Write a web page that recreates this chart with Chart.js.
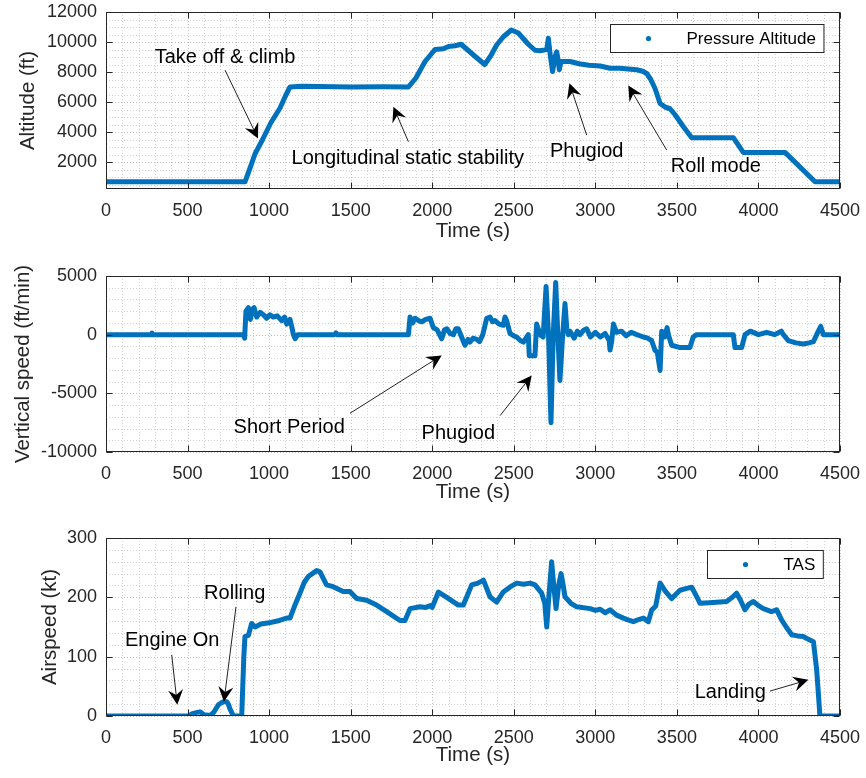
<!DOCTYPE html>
<html>
<head>
<meta charset="utf-8">
<title>Flight test data</title>
<script src="https://cdn.jsdelivr.net/npm/chart.js@4.4.0/dist/chart.umd.min.js"></script>
<style>
  body { margin: 0; background: #fff; }
  #wrap { position: relative; width: 866px; height: 778px; }
  canvas { position: absolute; left: 0; }
</style>
</head>
<body>
<div id="wrap">
  <canvas id="altChart" width="866" height="250" style="top:0"></canvas>
  <canvas id="vsChart" width="866" height="260" style="top:250px"></canvas>
  <canvas id="tasChart" width="866" height="268" style="top:510px"></canvas>
</div>
<script>
// ---- data ----
const timeTicks = [0, 500, 1000, 1500, 2000, 2500, 3000, 3500, 4000, 4500];
const altTicks = [2000, 4000, 6000, 8000, 10000, 12000];
const vsTicks = [-10000, -5000, 0, 5000];
const tasTicks = [0, 100, 200, 300];

// pressure altitude (ft)
const altTime = [0, 852, 870, 914, 960, 1010, 1067, 1100, 1128, 1200, 1500, 1700, 1854, 1900, 1956, 2017,
  2068, 2100, 2140, 2177, 2230, 2262, 2322, 2360, 2395, 2436, 2485, 2528, 2589, 2630, 2661, 2702, 2712,
  2725, 2738, 2752, 2763, 2772, 2779, 2790, 2845, 2900, 2960, 3030, 3090, 3150, 3200, 3254, 3290, 3315,
  3340, 3366, 3397, 3430, 3458, 3489, 3540, 3591, 3846, 3907, 4163, 4347, 4500];
const altitude = [680, 680, 1200, 2550, 3500, 4600, 5600, 6400, 7000, 7050, 7000, 7020, 7000, 7600, 8700, 9500,
  9550, 9700, 9750, 9850, 9350, 9050, 8500, 9100, 9800, 10350, 10800, 10600, 9850, 9450, 9420, 9500, 10250,
  9000, 8030, 9000, 9350, 8800, 8150, 8700, 8700, 8550, 8450, 8400, 8250, 8250, 8200, 8150, 8050, 7900,
  7500, 6900, 5900, 5650, 5550, 5150, 4350, 3620, 3620, 2640, 2640, 680, 680];

// vertical speed (ft/min)
const vsTime = [0, 280, 282, 285, 842, 850, 858, 873, 885, 900, 908, 924, 945, 965, 985, 1005, 1026, 1050,
  1077, 1095, 1108, 1128, 1140, 1149, 1160, 1175, 1400, 1410, 1415, 1854, 1864, 1880, 1895, 1915, 1936,
  1960, 1987, 2007, 2030, 2058, 2075, 2089, 2110, 2130, 2145, 2160, 2180, 2201, 2220, 2232, 2250, 2273,
  2290, 2310, 2334, 2354, 2370, 2385, 2410, 2436, 2446, 2456, 2477, 2500, 2518, 2540, 2559, 2575, 2589,
  2595, 2630, 2640, 2650, 2661, 2680, 2698, 2713, 2728, 2742, 2757, 2770, 2783, 2800, 2814, 2825, 2835,
  2845, 2870, 2890, 2906, 2930, 2947, 2970, 3000, 3030, 3060, 3085, 3090, 3100, 3111, 3130, 3160, 3190,
  3220, 3254, 3295, 3320, 3345, 3366, 3380, 3397, 3407, 3425, 3440, 3448, 3468, 3520, 3580, 3600, 3621,
  3700, 3846, 3856, 3897, 3918, 3950, 4000, 4050, 4100, 4140, 4153, 4183, 4230, 4275, 4310, 4337, 4367,
  4382, 4398, 4500];
const verticalSpeed = [0, 0, 150, 0, 0, -300, 2000, 2300, 1300, 2200, 2300, 1500, 1900, 1700, 1400, 1700,
  1500, 1600, 1200, 1500, 900, 1300, 600, 0, -350, 0, 0, 150, 0, 0, 1500, 1000, 1400, 1200, 1100, 1300,
  1400, 600, 400, -350, 400, 500, 100, 0, 500, 500, -200, -900, -400, -630, -300, -400, -600, 0, 1400,
  1500, 1100, 1200, 900, 800, 1500, 1200, 100, -100, -200, -500, -630, -300, 0, -1800, -1800, 900, 500,
  0, -200, 4100, 0, -7500, 0, 4450, 0, -3900, 0, 2650, 500, 0, 300, -300, 300, 0, 400, 500, -200, 200,
  -200, 100, -500, -1300, -600, 900, 200, 300, -100, 200, 0, -200, -300, -500, -1340, -1500, -3050, 300,
  -200, 600, 0, -900, -1100, -1100, -200, 0, 0, 0, -1100, -1100, 0, 300, 0, 200, 0, 300, 0, -500, -700,
  -800, -700, -600, 300, 700, 0, 0];

// true airspeed (kt)
const tasTime = [0, 505, 530, 560, 576, 600, 640, 660, 689, 705, 720, 740, 750, 760, 781, 832, 845, 852,
  873, 893, 914, 950, 1000, 1050, 1107, 1128, 1160, 1189, 1215, 1240, 1291, 1312, 1352, 1393, 1454, 1495,
  1537, 1598, 1659, 1721, 1802, 1833, 1864, 1925, 1960, 1990, 2000, 2038, 2060, 2089, 2160, 2191, 2242,
  2280, 2314, 2354, 2395, 2436, 2480, 2518, 2560, 2600, 2630, 2671, 2690, 2702, 2712, 2732, 2745, 2759,
  2775, 2790, 2800, 2814, 2850, 2886, 2968, 3000, 3030, 3060, 3090, 3130, 3172, 3200, 3233, 3270, 3295,
  3325, 3346, 3370, 3397, 3430, 3468, 3519, 3560, 3591, 3620, 3642, 3700, 3805, 3840, 3866, 3890, 3917,
  3940, 3969, 4000, 4030, 4080, 4112, 4142, 4170, 4204, 4240, 4275, 4300, 4337, 4357, 4377, 4500];
const tas = [0, 0, 4, 6, 7, 2, 1, 6, 19, 22, 24, 24, 20, 12, 0, 0, 100, 134, 136, 156, 150, 155, 157, 160,
  165, 165, 188, 207, 225, 235, 245, 243, 221, 218, 210, 210, 198, 195, 187, 176, 161, 161, 181, 184, 183,
  186, 183, 209, 205, 200, 187, 187, 221, 224, 229, 201, 192, 209, 218, 224, 222, 224, 221, 207, 190,
  150, 190, 260, 220, 181, 220, 240, 225, 201, 190, 184, 181, 178, 180, 174, 179, 170, 165, 162, 159, 163,
  165, 159, 179, 185, 224, 210, 198, 212, 215, 217, 202, 190, 191, 193, 200, 207, 195, 179, 188, 193, 186,
  181, 176, 179, 162, 150, 137, 135, 134, 130, 125, 78, 0, 0];

// annotation texts, in data units: label position, arrow tail, arrow tip
const altNotes = [
  { text: 'Take off & climb', at: [730, 8990], from: [730, 8120], to: [932, 3570] },
  { text: 'Longitudinal static stability', at: [1850, 2210], from: [1854, 3350], to: [1762, 5690] },
  { text: 'Phugiod', at: [2947, 2680], from: [2947, 3790], to: [2841, 7250] },
  { text: 'Roll mode', at: [3739, 1680], from: [3438, 2790], to: [3202, 7100] }
];
const vsNotes = [
  { text: 'Short Period', at: [1123, -7900], from: [1496, -6700], to: [2058, -1770] },
  { text: 'Phugiod', at: [2160, -8380], from: [2416, -6900], to: [2610, -3480] }
];
const tasNotes = [
  { text: 'Engine On', at: [406, 127], from: [403, 103], to: [437, 19] },
  { text: 'Rolling', at: [789, 206], from: [797, 184], to: [723, 24] },
  { text: 'Landing', at: [3827, 39], from: [4071, 42], to: [4306, 61] }
];

const FONT = "'Liberation Sans', Arial, Helvetica, sans-serif";
const BLUE = '#0072BD';
const AXIS = '#262626';

function drawArrow(ctx, x0, y0, x1, y1) {
  const a = Math.atan2(y1 - y0, x1 - x0);
  const c = Math.cos(a), s = Math.sin(a);
  const L = 15, W = 7.5;
  const bx = x1 - L * c, by = y1 - L * s;
  const nx = x1 - 0.65 * L * c, ny = y1 - 0.65 * L * s;
  ctx.strokeStyle = '#222';
  ctx.lineWidth = 1;
  ctx.beginPath();
  ctx.moveTo(x0, y0);
  ctx.lineTo(nx, ny);
  ctx.stroke();
  ctx.fillStyle = '#000';
  ctx.beginPath();
  ctx.moveTo(x1, y1);
  ctx.lineTo(bx - W * s, by + W * c);
  ctx.lineTo(nx, ny);
  ctx.lineTo(bx + W * s, by - W * c);
  ctx.closePath();
  ctx.fill();
}

// MATLAB-like axes: minor/major grid, box, inside ticks, legend, annotations
const matlabAxes = {
  id: 'matlabAxes',
  beforeDatasetsDraw(chart, args, opts) {
    const { ctx, chartArea: a, scales: { x, y } } = chart;
    ctx.save();
    ctx.lineWidth = 1;
    const vLine = (v, col, dash) => {
      const p = Math.round(x.getPixelForValue(v)) + 0.5;
      ctx.strokeStyle = col; ctx.setLineDash(dash);
      ctx.beginPath(); ctx.moveTo(p, a.top); ctx.lineTo(p, a.bottom); ctx.stroke();
    };
    const hLine = (v, col, dash) => {
      const p = Math.round(y.getPixelForValue(v)) + 0.5;
      ctx.strokeStyle = col; ctx.setLineDash(dash);
      ctx.beginPath(); ctx.moveTo(a.left, p); ctx.lineTo(a.right, p); ctx.stroke();
    };
    for (let k = Math.ceil(x.min / opts.xMinor); k * opts.xMinor <= x.max; k++) vLine(k * opts.xMinor, '#d3d3d3', [1, 2]);
    for (let k = Math.ceil(y.min / opts.yMinor); k * opts.yMinor <= y.max; k++) hLine(k * opts.yMinor, '#d3d3d3', [1, 2]);
    timeTicks.forEach(v => vLine(v, '#c0c0c0', [1, 2]));
    opts.yTicks.forEach(v => hLine(v, '#c0c0c0', [1, 2]));
    ctx.restore();
  },
  afterDatasetsDraw(chart, args, opts) {
    const { ctx, chartArea: a, scales: { x, y } } = chart;
    const L = Math.round(a.left) + 0.5, R = Math.round(a.right) - 0.5;
    const T = Math.round(a.top) + 0.5, B = Math.round(a.bottom) - 0.5;
    ctx.save();
    ctx.setLineDash([]);
    ctx.strokeStyle = AXIS;
    ctx.lineWidth = 1;
    ctx.strokeRect(L, T, R - L, B - T);
    const tl = 6;
    ctx.beginPath();
    timeTicks.forEach(v => {
      const p = Math.round(x.getPixelForValue(v)) + 0.5;
      ctx.moveTo(p, B); ctx.lineTo(p, B - tl);
      ctx.moveTo(p, T); ctx.lineTo(p, T + tl);
    });
    opts.yTicks.forEach(v => {
      const p = Math.round(y.getPixelForValue(v)) + 0.5;
      ctx.moveTo(L, p); ctx.lineTo(L + tl, p);
      ctx.moveTo(R, p); ctx.lineTo(R - tl, p);
    });
    ctx.stroke();

    // legend box inside the axes
    if (opts.legend) {
      ctx.font = '17px ' + FONT;
      const tw = ctx.measureText(opts.legend).width;
      const w = 76 + tw + 8, h = 28;
      const bx = Math.round(a.right - 17 - w) + 0.5, by = Math.round(a.top + 12) + 0.5;
      ctx.fillStyle = '#fff';
      ctx.fillRect(bx, by, w, h);
      ctx.strokeStyle = AXIS;
      ctx.strokeRect(bx, by, w, h);
      ctx.fillStyle = BLUE;
      ctx.beginPath(); ctx.arc(bx + 38, by + h / 2, 2.6, 0, Math.PI * 2); ctx.fill();
      ctx.fillStyle = '#000';
      ctx.textBaseline = 'middle';
      ctx.textAlign = 'left';
      ctx.fillText(opts.legend, bx + 76, by + h / 2 + 1);
    }

    // annotations
    ctx.font = '20px ' + FONT;
    ctx.textAlign = 'center';
    ctx.textBaseline = 'middle';
    (opts.notes || []).forEach(n => {
      drawArrow(ctx, x.getPixelForValue(n.from[0]), y.getPixelForValue(n.from[1]),
        x.getPixelForValue(n.to[0]), y.getPixelForValue(n.to[1]));
      ctx.fillStyle = '#000';
      ctx.fillText(n.text, x.getPixelForValue(n.at[0]), y.getPixelForValue(n.at[1]));
    });
    ctx.restore();
  }
};

function makePanel(id, cfg) {
  const tickFont = { family: FONT, size: 18 };
  const titleFont = { family: FONT, size: 20.5 };
  return new Chart(document.getElementById(id), {
    type: 'line',
    data: {
      datasets: [{
        label: cfg.legend || cfg.yTitle,
        data: cfg.time.map((t, i) => ({ x: t, y: cfg.values[i] })),
        borderColor: BLUE,
        borderWidth: 5,
        pointRadius: 0,
        tension: 0,
        borderJoinStyle: 'round',
        borderCapStyle: 'round'
      }]
    },
    options: {
      responsive: false,
      animation: false,
      events: [],
      layout: { padding: { top: cfg.padTop, right: 26, left: 0, bottom: 0 } },
      plugins: {
        legend: { display: false },
        tooltip: { enabled: false },
        matlabAxes: { xMinor: 100, yMinor: cfg.yMinor, yTicks: cfg.yTicks, legend: cfg.legend, notes: cfg.notes }
      },
      scales: {
        x: {
          type: 'linear', min: 0, max: 4500,
          afterBuildTicks: s => { s.ticks = timeTicks.map(v => ({ value: v })); },
          afterFit: s => { s.height = cfg.xHeight; s.paddingLeft = 0; s.paddingRight = 0; },
          grid: { display: false, drawTicks: false },
          border: { display: false },
          ticks: { font: tickFont, color: AXIS, padding: 11.5, maxRotation: 0, autoSkip: false, callback: v => String(v) },
          title: { display: true, text: 'Time (s)', font: titleFont, color: AXIS, padding: { top: 0, bottom: cfg.xTitlePad } }
        },
        y: {
          type: 'linear', min: cfg.yMin, max: cfg.yMax,
          afterBuildTicks: s => { s.ticks = cfg.yTicks.map(v => ({ value: v })); },
          afterFit: s => { s.width = 106; s.paddingTop = 0; s.paddingBottom = 0; },
          grid: { display: false, drawTicks: false },
          border: { display: false },
          ticks: { font: tickFont, color: AXIS, padding: 9, autoSkip: false, callback: v => String(v) },
          title: { display: true, text: cfg.yTitle, font: titleFont, color: AXIS, padding: { top: cfg.yTitlePad, bottom: 0 } }
        }
      }
    },
    plugins: [matlabAxes]
  });
}

makePanel('altChart', {
  time: altTime, values: altitude, yTitle: 'Altitude (ft)', legend: 'Pressure Altitude',
  yMin: 200, yMax: 12000, yTicks: altTicks, yMinor: 500, notes: altNotes,
  padTop: 12, xHeight: 61, xTitlePad: 6, yTitlePad: 16
});
makePanel('vsChart', {
  time: vsTime, values: verticalSpeed, yTitle: 'Vertical speed (ft/min)',
  yMin: -10000, yMax: 5000, yTicks: vsTicks, yMinor: 1000, notes: vsNotes,
  padTop: 26, xHeight: 58, xTitlePad: 5, yTitlePad: 11
});
makePanel('tasChart', {
  time: tasTime, values: tas, yTitle: 'Airspeed (kt)', legend: 'TAS',
  yMin: 0, yMax: 300, yTicks: tasTicks, yMinor: 20, notes: tasNotes,
  padTop: 28, xHeight: 62, xTitlePad: 10, yTitlePad: 37.7
});
</script>
</body>
</html>
